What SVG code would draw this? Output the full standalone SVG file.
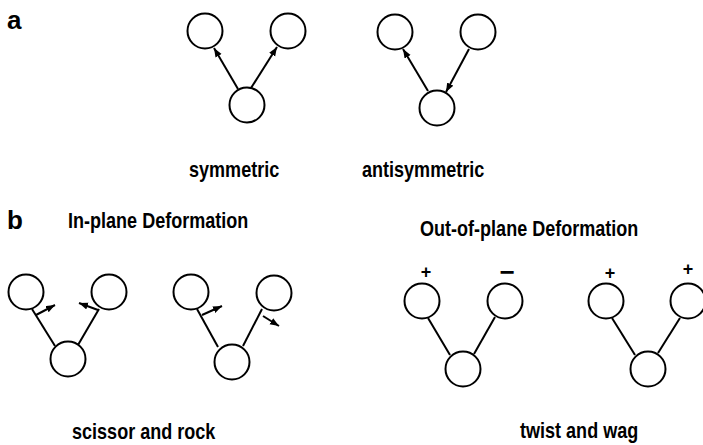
<svg xmlns="http://www.w3.org/2000/svg" width="703" height="445" viewBox="0 0 703 445">
  <style>
    .atom { fill: #ffffff; stroke: #000000; stroke-width: 2; }
    .bond { stroke: #000000; stroke-width: 2; fill: none; }
    .lbl { font-family: "Liberation Sans", Arial, sans-serif; font-weight: bold; font-size: 22px; fill: #000000; }
    .tag { font-family: "Liberation Sans", Arial, sans-serif; font-weight: bold; font-size: 26px; fill: #000000; }
    .sign { font-family: "Liberation Sans", Arial, sans-serif; font-weight: bold; font-size: 18px; fill: #000000; text-anchor: middle; }
  </style>
  <defs>
    <marker id="head" markerUnits="userSpaceOnUse" markerWidth="12" markerHeight="10" refX="9" refY="3.5" orient="auto">
      <path d="M0,0 L9,3.5 L0,7 Z" fill="#000000"/>
    </marker>
  </defs>

  <rect width="703" height="445" fill="#ffffff"/>

  <!-- panel labels -->
  <text class="tag" x="7" y="29">a</text>
  <text class="tag" x="7" y="229">b</text>

  <!-- bonds and displacement arrows -->
  <g id="connectors">
    <!-- symmetric stretch -->
    <line class="bond" x1="238" y1="89" x2="214" y2="48" marker-end="url(#head)"/>
    <line class="bond" x1="251" y1="88" x2="277" y2="47" marker-end="url(#head)"/>
    <!-- antisymmetric stretch -->
    <line class="bond" x1="428" y1="91" x2="403" y2="49" marker-end="url(#head)"/>
    <line class="bond" x1="469" y1="49" x2="446" y2="92" marker-end="url(#head)"/>
    <!-- scissor -->
    <line class="bond" x1="32" y1="309" x2="55" y2="346"/>
    <line class="bond" x1="99" y1="309" x2="78" y2="345"/>
    <line class="bond" x1="36" y1="315" x2="55" y2="305" marker-end="url(#head)"/>
    <line class="bond" x1="98" y1="310" x2="79" y2="303" marker-end="url(#head)"/>
    <!-- rock -->
    <line class="bond" x1="197" y1="309" x2="218" y2="347"/>
    <line class="bond" x1="262" y1="309" x2="243" y2="346"/>
    <line class="bond" x1="202" y1="315" x2="222" y2="306" marker-end="url(#head)"/>
    <line class="bond" x1="263" y1="316" x2="279" y2="326" marker-end="url(#head)"/>
    <!-- twist -->
    <line class="bond" x1="428" y1="318" x2="450" y2="355"/>
    <line class="bond" x1="495" y1="317" x2="474" y2="354"/>
    <!-- wag -->
    <line class="bond" x1="612" y1="318" x2="635" y2="355"/>
    <line class="bond" x1="680" y1="318" x2="658" y2="353"/>
  </g>

  <!-- symmetric -->
  <g id="sym-left"><circle class="atom" cx="205" cy="31" r="17.5"/></g>
  <g id="sym-right"><circle class="atom" cx="288" cy="31" r="17.5"/></g>
  <g id="sym-center"><circle class="atom" cx="247" cy="105" r="17.5"/></g>

  <!-- antisymmetric -->
  <g id="anti-left"><circle class="atom" cx="395" cy="32" r="17.5"/></g>
  <g id="anti-right"><circle class="atom" cx="478" cy="32" r="17.5"/></g>
  <g id="anti-center"><circle class="atom" cx="437" cy="108" r="17.5"/></g>

  <!-- scissor -->
  <g id="sci-left"><circle class="atom" cx="26" cy="292" r="17.5"/></g>
  <g id="sci-right"><circle class="atom" cx="109" cy="292" r="17.5"/></g>
  <g id="sci-center"><circle class="atom" cx="68" cy="359" r="17.5"/></g>

  <!-- rock -->
  <g id="rock-left"><circle class="atom" cx="191" cy="292" r="17.5"/></g>
  <g id="rock-right"><circle class="atom" cx="274" cy="293" r="17.5"/></g>
  <g id="rock-center"><circle class="atom" cx="232" cy="362" r="17.5"/></g>

  <!-- twist -->
  <g id="twist-left"><circle class="atom" cx="422" cy="301" r="17.5"/><text class="sign" x="426" y="278">+</text></g>
  <g id="twist-right"><circle class="atom" cx="505" cy="301" r="17.5"/><text class="sign" x="507" y="281" style="font-size:26px">−</text></g>
  <g id="twist-center"><circle class="atom" cx="463" cy="369" r="17.5"/></g>

  <!-- wag -->
  <g id="wag-left"><circle class="atom" cx="606" cy="301" r="17.5"/><text class="sign" x="610" y="279">+</text></g>
  <g id="wag-right"><circle class="atom" cx="688" cy="301" r="17.5"/><text class="sign" x="688" y="275">+</text></g>
  <g id="wag-center"><circle class="atom" cx="648" cy="369" r="17.5"/></g>

  <!-- captions (narrow bold face) -->
  <text class="lbl" transform="translate(189,177) scale(0.82,1)">symmetric</text>
  <text class="lbl" transform="translate(362,177) scale(0.82,1)">antisymmetric</text>
  <text class="lbl" transform="translate(68,228) scale(0.82,1)">In-plane Deformation</text>
  <text class="lbl" transform="translate(420,236) scale(0.82,1)">Out-of-plane Deformation</text>
  <text class="lbl" transform="translate(72,439) scale(0.82,1)">scissor and rock</text>
  <text class="lbl" transform="translate(520,438) scale(0.82,1)">twist and wag</text>
</svg>
